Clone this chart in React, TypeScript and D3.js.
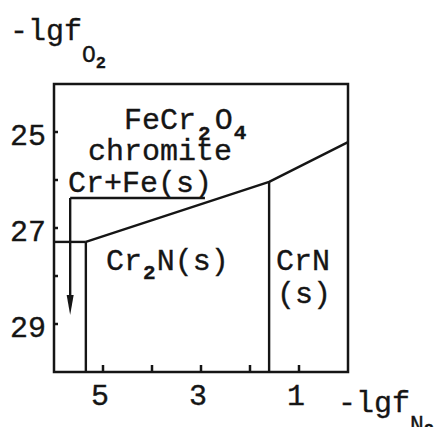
import React from "react";
import * as d3 from "d3";

// Axis extents and ticks (both axes are plotted as -lg f, x runs high → low)
const xDomain = [6, 0];
const yDomain = [24, 30];
const xTicks = [5, 4, 3, 2, 1];
const xTickLabels = [5, 3, 1];
const yTicks = [25, 26, 27, 28, 29];
const yTickLabels = [25, 27, 29];

// Phase boundaries as [-lg fN2, -lg fO2] points
const crFeCr2NBoundary = [
  [6, 27.29],
  [5.35, 27.29],
];
const chromiteLowerBoundary = [
  [5.35, 27.29],
  [1.61, 26.04],
  [0, 25.21],
];
const cr2NCrNBoundary = [
  [1.61, 26.04],
  [1.61, 30],
];
const cr2NLeftBoundary = [
  [5.35, 27.29],
  [5.35, 30],
];
const crFeLevel = [
  [5.67, 26.375],
  [2.92, 26.375],
];
const crFeArrow = [
  [5.67, 26.375],
  [5.67, 28.81],
];

const FONT = "'Liberation Mono', 'DejaVu Sans Mono', monospace";
const INK = "#151515";

export default function App() {
  const W = 442;
  const H = 427;
  const x = d3.scaleLinear().domain(xDomain).range([54, 348]);
  const y = d3.scaleLinear().domain(yDomain).range([84, 372]);
  const line = d3
    .line<number[]>()
    .x((d) => x(d[0]))
    .y((d) => y(d[1]));

  const [x0, x1] = x.range();
  const [y0, y1] = y.range();
  const arrowTip = y(crFeArrow[1][1]);
  const ax = x(crFeArrow[0][0]);

  const textInk = { stroke: INK, strokeWidth: 0.35 };

  return (
    <svg
      width={W}
      height={H}
      style={{ position: "absolute", left: 0, top: 0, background: "#fff" }}
      fontFamily={FONT}
      fill={INK}
    >
      <rect width={W} height={H} fill="#fff" />

      {/* frame */}
      <rect
        x={x0}
        y={y0}
        width={x1 - x0}
        height={y1 - y0}
        fill="none"
        stroke={INK}
        strokeWidth={2.5}
      />

      {/* inward ticks */}
      {yTicks.map((t) => (
        <line
          key={"yt" + t}
          x1={x0}
          x2={x0 + 4}
          y1={y(t)}
          y2={y(t)}
          stroke={INK}
          strokeWidth={2.5}
        />
      ))}
      {xTicks.map((t) => (
        <line
          key={"xt" + t}
          x1={x(t)}
          x2={x(t)}
          y1={y1}
          y2={y1 - 7}
          stroke={INK}
          strokeWidth={2.5}
        />
      ))}

      <g {...textInk}>
        {/* tick labels */}
        {yTickLabels.map((t) => (
          <text key={"yl" + t} x={46} y={y(t) + 13} fontSize={30} textAnchor="end">
            {t}
          </text>
        ))}
        {xTickLabels.map((t) => (
          <text key={"xl" + t} x={x(t) - 3} y={405} fontSize={30} textAnchor="middle">
            {t}
          </text>
        ))}

        {/* axis titles */}
        <text x={10} y={40} fontSize={30}>
          -lgf
          <tspan fontSize={23} dy={22}>O</tspan>
          <tspan fontSize={17} fontWeight="bold" dy={6}>2</tspan>
        </text>
        <text x={338} y={412} fontSize={30}>
          -lgf
          <tspan fontSize={23} dy={20}>N</tspan>
          <tspan fontSize={17} fontWeight="bold" dy={3}>2</tspan>
        </text>

        {/* region labels */}
        <text x={124} y={129} fontSize={30}>
          FeCr
          <tspan fontSize={21} fontWeight="bold" dx={2} dy={11}>2</tspan>
          <tspan dx={4} dy={-11}>O</tspan>
          <tspan fontSize={21} fontWeight="bold" dx={1} dy={10}>4</tspan>
        </text>
        <text x={88} y={160} fontSize={30}>chromite</text>
        <text x={68} y={192} fontSize={30}>Cr+Fe(s)</text>
        <text x={106} y={270} fontSize={30}>
          Cr
          <tspan fontSize={21} fontWeight="bold" dx={1} dy={9}>2</tspan>
          <tspan dx={1} dy={-9}>N(s)</tspan>
        </text>
        <text x={276} y={270} fontSize={30}>CrN</text>
        <text x={277} y={303} fontSize={30}>(s)</text>
      </g>

      {/* phase boundaries */}
      <g fill="none" stroke={INK} strokeWidth={2.4} strokeLinejoin="round">
        <path d={line(crFeCr2NBoundary) || ""} />
        <path d={line(chromiteLowerBoundary) || ""} />
        <path d={line(cr2NCrNBoundary) || ""} />
        <path d={line(cr2NLeftBoundary) || ""} />
        <path d={line(crFeLevel) || ""} />
        <path d={line([crFeArrow[0], [crFeArrow[1][0], crFeArrow[1][1] - 0.3]]) || ""} />
      </g>
      <path
        d={`M${ax - 3.5},${arrowTip - 20} L${ax + 3.5},${arrowTip - 20} L${ax},${arrowTip} Z`}
        fill={INK}
      />
    </svg>
  );
}
